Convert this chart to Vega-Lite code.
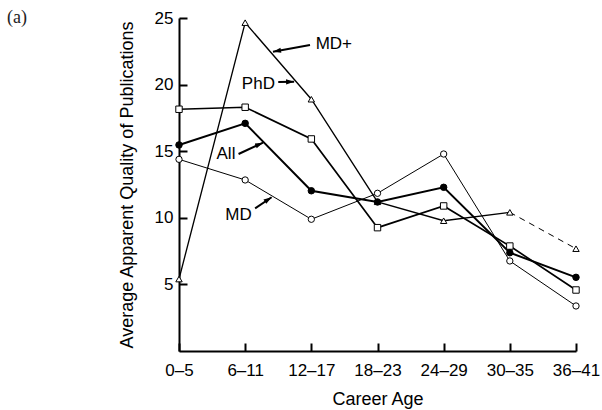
{
  "$schema": "https://vega.github.io/schema/vega-lite/v6.json",
  "width": 397,
  "height": 333,
  "autosize": {"type": "none"},
  "padding": {"left": 179, "top": 18, "right": 26, "bottom": 59},
  "background": "white",
  "title": {"text": "(a)", "anchor": "start", "frame": "group", "dx": -172, "dy": 10, "font": "Liberation Serif", "fontSize": 18, "fontWeight": "normal", "color": "#222", "offset": -8},
  "config": {
    "view": {"stroke": null},
    "font": "Liberation Sans",
    "axis": {
      "grid": false, "domainColor": "black", "domainWidth": 2, "tickColor": "black", "tickWidth": 2,
      "labelColor": "black", "labelFont": "Liberation Sans", "labelFontSize": 17,
      "titleColor": "black", "titleFont": "Liberation Sans", "titleFontSize": 18, "titleFontWeight": "normal"
    }
  },
  "datasets": {
    "series": [
      {"group": "MD+", "age": "0–5", "age_index": 0, "quality": 5.4},
      {"group": "MD+", "age": "6–11", "age_index": 1, "quality": 24.65},
      {"group": "MD+", "age": "12–17", "age_index": 2, "quality": 18.9},
      {"group": "MD+", "age": "18–23", "age_index": 3, "quality": 11.2},
      {"group": "MD+", "age": "24–29", "age_index": 4, "quality": 9.78},
      {"group": "MD+", "age": "30–35", "age_index": 5, "quality": 10.41},
      {"group": "MD+", "age": "36–41", "age_index": 6, "quality": 7.68},
      {"group": "MD", "age": "0–5", "age_index": 0, "quality": 14.39},
      {"group": "MD", "age": "6–11", "age_index": 1, "quality": 12.84},
      {"group": "MD", "age": "12–17", "age_index": 2, "quality": 9.89},
      {"group": "MD", "age": "18–23", "age_index": 3, "quality": 11.84},
      {"group": "MD", "age": "24–29", "age_index": 4, "quality": 14.79},
      {"group": "MD", "age": "30–35", "age_index": 5, "quality": 6.76},
      {"group": "MD", "age": "36–41", "age_index": 6, "quality": 3.38},
      {"group": "PhD", "age": "0–5", "age_index": 0, "quality": 18.15},
      {"group": "PhD", "age": "6–11", "age_index": 1, "quality": 18.3},
      {"group": "PhD", "age": "12–17", "age_index": 2, "quality": 15.92},
      {"group": "PhD", "age": "18–23", "age_index": 3, "quality": 9.26},
      {"group": "PhD", "age": "24–29", "age_index": 4, "quality": 10.89},
      {"group": "PhD", "age": "30–35", "age_index": 5, "quality": 7.88},
      {"group": "PhD", "age": "36–41", "age_index": 6, "quality": 4.58},
      {"group": "All", "age": "0–5", "age_index": 0, "quality": 15.47},
      {"group": "All", "age": "6–11", "age_index": 1, "quality": 17.09},
      {"group": "All", "age": "12–17", "age_index": 2, "quality": 12.03},
      {"group": "All", "age": "18–23", "age_index": 3, "quality": 11.19},
      {"group": "All", "age": "24–29", "age_index": 4, "quality": 12.29},
      {"group": "All", "age": "30–35", "age_index": 5, "quality": 7.38},
      {"group": "All", "age": "36–41", "age_index": 6, "quality": 5.53}
    ],
    "notes": [
      {"label": "MD+", "tx": 2.34, "ty": 23.08, "ax": 1.98, "ay": 22.97, "hx": 1.42, "hy": 22.47, "angle": 260},
      {"label": "PhD", "tx": 1.2, "ty": 20.05, "ax": 1.5, "ay": 20.2, "hx": 1.74, "hy": 20.22, "angle": 88},
      {"label": "All", "tx": 0.71, "ty": 14.81, "ax": 0.9, "ay": 14.79, "hx": 1.27, "hy": 15.64, "angle": 66},
      {"label": "MD", "tx": 0.9, "ty": 10.21, "ax": 1.15, "ay": 10.71, "hx": 1.4, "hy": 11.54, "angle": 57}
    ]
  },
  "layer": [
    {
      "data": {"name": "series"},
      "transform": [{"filter": "!(datum.group == 'MD+' && datum.age_index > 5)"}],
      "mark": {"type": "line", "color": "black"},
      "encoding": {
        "x": {
          "field": "age_index", "type": "quantitative",
          "scale": {"domain": [0, 6], "nice": false, "zero": false},
          "axis": {
            "values": [0, 1, 2, 3, 4, 5, 6],
            "labelExpr": "['0–5','6–11','12–17','18–23','24–29','30–35','36–41'][datum.value]",
            "tickSize": -8, "labelPadding": 19, "title": "Career Age", "titlePadding": 12,
            "labelFlush": false, "labelOverlap": false
          }
        },
        "y": {
          "field": "quality", "type": "quantitative",
          "scale": {"domain": [0, 25], "nice": false},
          "axis": {
            "values": [5, 10, 15, 20, 25], "tickSize": -8, "labelPadding": 14,
            "title": "Average Apparent Quality of  Publications", "titlePadding": 18
          }
        },
        "detail": {"field": "group"},
        "strokeWidth": {
          "field": "group", "type": "nominal",
          "scale": {"domain": ["All", "PhD", "MD+", "MD"], "range": [2, 1, 1, 1]},
          "legend": null
        }
      }
    },
    {
      "data": {"name": "series"},
      "transform": [{"filter": "datum.group == 'MD+' && datum.age_index >= 5"}],
      "mark": {"type": "line", "color": "black", "strokeWidth": 1, "strokeDash": [6, 5]},
      "encoding": {
        "x": {"field": "age_index", "type": "quantitative"},
        "y": {"field": "quality", "type": "quantitative"}
      }
    },
    {
      "data": {"name": "series"},
      "mark": {"type": "point", "filled": true, "stroke": "black", "strokeWidth": 1, "opacity": 1},
      "encoding": {
        "x": {"field": "age_index", "type": "quantitative"},
        "y": {"field": "quality", "type": "quantitative"},
        "shape": {
          "field": "group", "type": "nominal",
          "scale": {"domain": ["All", "PhD", "MD+", "MD"], "range": ["circle", "square", "triangle-up", "circle"]},
          "legend": null
        },
        "fill": {
          "field": "group", "type": "nominal",
          "scale": {"domain": ["All", "PhD", "MD+", "MD"], "range": ["black", "white", "white", "white"]},
          "legend": null
        },
        "size": {
          "field": "group", "type": "nominal",
          "scale": {"domain": ["All", "PhD", "MD+", "MD"], "range": [42, 40, 28, 38]},
          "legend": null
        }
      }
    },
    {
      "data": {"name": "notes"},
      "mark": {"type": "rule", "color": "black", "strokeWidth": 2},
      "encoding": {
        "x": {"field": "ax", "type": "quantitative"},
        "y": {"field": "ay", "type": "quantitative"},
        "x2": {"field": "hx"},
        "y2": {"field": "hy"}
      }
    },
    {
      "data": {"name": "notes"},
      "mark": {"type": "point", "filled": true, "color": "black", "opacity": 1, "shape": "M0,0L0.55,1.7L-0.55,1.7Z", "size": 90},
      "encoding": {
        "x": {"field": "hx", "type": "quantitative"},
        "y": {"field": "hy", "type": "quantitative"},
        "angle": {"field": "angle", "type": "quantitative", "scale": null}
      }
    },
    {
      "data": {"name": "notes"},
      "mark": {"type": "text", "font": "Liberation Sans", "fontSize": 17, "color": "black", "align": "center", "baseline": "middle"},
      "encoding": {
        "x": {"field": "tx", "type": "quantitative"},
        "y": {"field": "ty", "type": "quantitative"},
        "text": {"field": "label"}
      }
    }
  ]
}
